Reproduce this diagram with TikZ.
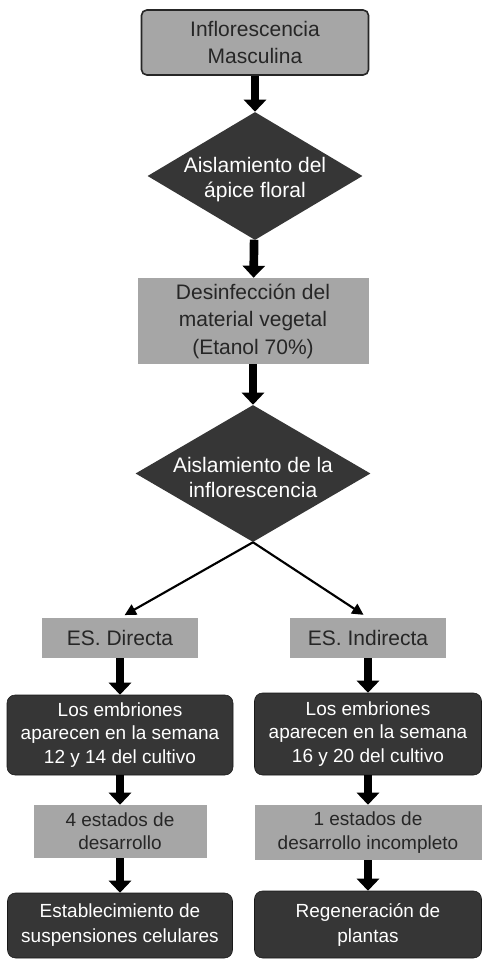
\documentclass[tikz,border=0pt]{standalone}
\usepackage{fontspec}
\setmainfont{Liberation Sans}
\usepackage{tikz}
\usetikzlibrary{positioning}
\usetikzlibrary{arrows.meta,shapes}
\newdimen\pxu \pxu=0.75pt
\definecolor{boxgray}{HTML}{A6A6A6}
\definecolor{boxdark}{HTML}{363636}
\definecolor{txtgray}{HTML}{262626}
\tikzstyle{graybox}=[rectangle,fill=boxgray,text=txtgray,align=center,inner sep=0pt]
\tikzstyle{topbox}=[graybox,rounded corners=4pt,draw=black!85,line width=1.2pt]
\tikzstyle{darkbox}=[rectangle,rounded corners=6pt,fill=boxdark,draw=black!90,text=white,align=center,inner sep=0pt]
\tikzstyle{decision}=[diamond,fill=boxdark,inner sep=0pt]
\tikzstyle{dtext}=[text=white,align=center,yshift=-3pt,font=\fontsize{15.75}{18.75}\selectfont]
\tikzstyle{bigfont}=[font=\fontsize{15.75}{20.6}\selectfont]
\tikzstyle{smallfont}=[font=\fontsize{14.25}{17.5}\selectfont]
\tikzstyle{loosefont}=[font=\fontsize{14.25}{18.75}\selectfont]
\tikzstyle{edge} = [draw,line width=6.5pt,-{Triangle[length=9pt,width=16.5pt]}]
\tikzstyle{thinedge} = [draw,line width=1.6pt,-{Triangle[length=8.5pt,width=8.5pt]},shorten >=4pt]

\begin{document}
\begin{tikzpicture}[x=0.75pt,y=-0.75pt]
    \useasboundingbox (0,0) rectangle (493,970);
    % Top box
    \node[topbox,bigfont,minimum width=227\pxu,minimum height=65\pxu] (flor) at (255,42.5) {Inflorescencia\\Masculina};

    % Decisions (diamonds), text put on top
    \foreach \pos/\name/\w/\h/\label in {{(255,176)/ais1/215/128/{Aislamiento del\\ápice floral}},
    {(253,473.5)/ais2/235/137/{Aislamiento de la\\inflorescencia}}}
    {
        \node[decision,minimum width=\w\pxu,minimum height=\h\pxu] (\name) at \pos {};
        \node[dtext] at (\name) {\label};
    }

    % Grey boxes
    \foreach \pos/\name/\w/\h/\fnt/\label in {{(253,321)/desinf/231/86/bigfont/{Desinfección del\\material vegetal\\(Etanol 70\%)}},
    {(120,638)/esd/156/40/bigfont/{ES. Directa}}, {(368,638)/esi/156/40/bigfont/{ES. Indirecta}},
    {(120,831.5)/est4/173/53/smallfont/{4 estados de\\desarrollo}},
    {(368,832.5)/est1/227/55/smallfont/{1 estados de\\desarrollo incompleto}}}
        \node[graybox,\fnt,minimum width=\w\pxu,minimum height=\h\pxu] (\name) at \pos {\label};

    % Dark boxes
    \foreach \pos/\name/\w/\h/\fnt/\label in {{(120,735)/emb1/226/80/smallfont/{Los embriones\\aparecen en la semana\\12 y 14 del cultivo}},
    {(368,734)/emb2/227/82/smallfont/{Los embriones\\aparecen en la semana\\16 y 20 del cultivo}},
    {(120,925.5)/fin1/225/65/loosefont/{Establecimiento de\\suspensiones celulares}},
    {(368,924.5)/fin2/227/67/loosefont/{Regeneración de\\plantas}}}
        \node[darkbox,\fnt,minimum width=\w\pxu,minimum height=\h\pxu] (\name) at \pos {\label};

    % Connect the boxes
    \foreach \source/\dest in {flor/ais1, ais1/desinf, desinf/ais2, esd/emb1, esi/emb2,
    emb1/est4, emb2/est1, est4/fin1, est1/fin2}
        \path[edge] (\source) -- (\dest);
    \foreach \dest in {esd, esi}
        \path[thinedge] (ais2.south) -- (\dest.north);
\end{tikzpicture}
\end{document}
